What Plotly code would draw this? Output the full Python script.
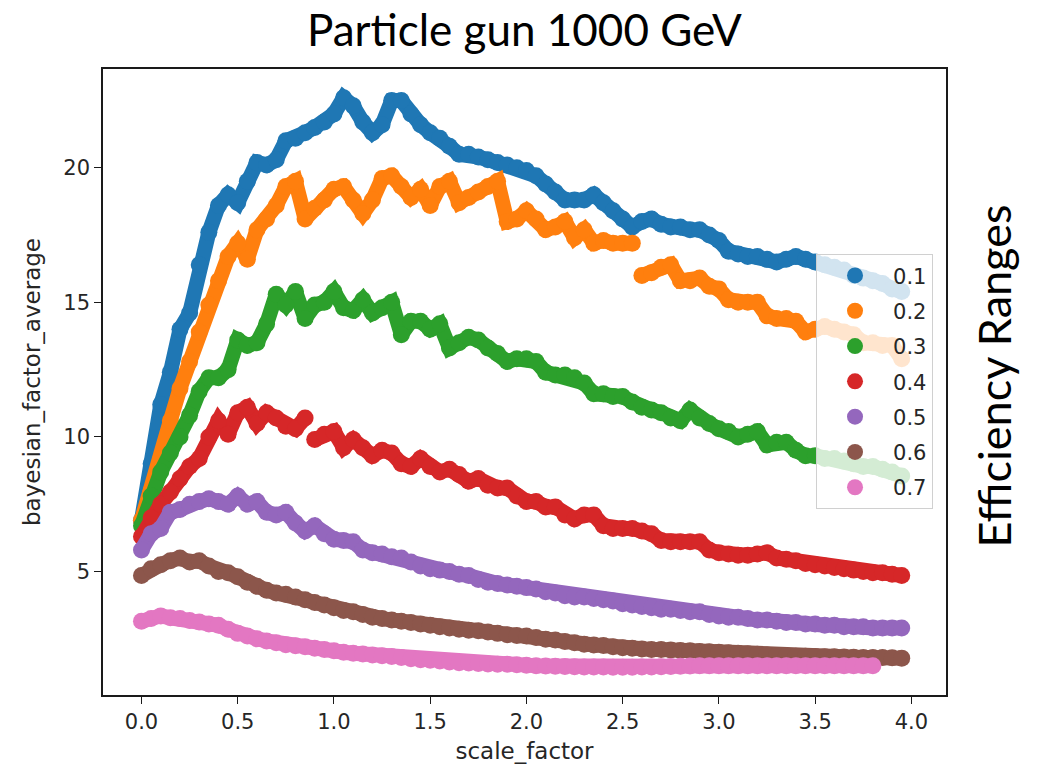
import plotly.graph_objects as go

SCALE_FACTOR = [0.00, 0.05, 0.10, 0.15, 0.20, 0.25, 0.30, 0.35, 0.40, 0.45,
                0.50, 0.55, 0.60, 0.65, 0.70, 0.75, 0.80, 0.85, 0.90, 0.95,
                1.00, 1.05, 1.10, 1.15, 1.20, 1.25, 1.30, 1.35, 1.40, 1.45,
                1.50, 1.55, 1.60, 1.65, 1.70, 1.75, 1.80, 1.85, 1.90, 1.95,
                2.00, 2.05, 2.10, 2.15, 2.20, 2.25, 2.30, 2.35, 2.40, 2.45,
                2.50, 2.55, 2.60, 2.65, 2.70, 2.75, 2.80, 2.85, 2.90, 2.95,
                3.00, 3.05, 3.10, 3.15, 3.20, 3.25, 3.30, 3.35, 3.40, 3.45,
                3.50, 3.55, 3.60, 3.65, 3.70, 3.75, 3.80, 3.85, 3.90, 3.95]

EFF_01 = [6.9, 9.0, 11.2, 12.4, 14.0, 14.6, 16.4, 17.6, 18.6, 19.0,
          18.7, 19.5, 20.2, 20.1, 20.3, 21.0, 21.1, 21.3, 21.5, 21.7,
          22.0, 22.6, 22.3, 21.7, 21.3, 21.6, 22.5, 22.5, 22.0, 21.6,
          21.3, 21.1, 20.8, 20.5, 20.5, 20.4, 20.3, 20.2, 20.1, 20.0,
          19.9, 19.7, 19.4, 19.1, 18.8, 18.8, 18.8, 19.0, 18.7, 18.4,
          18.1, 17.8, 18.0, 18.1, 17.9, 17.8, 17.8, 17.7, 17.7, 17.5,
          17.3, 16.9, 16.8, 16.7, 16.7, 16.6, 16.5, 16.6, 16.7, 16.6,
          16.5, 16.4, 16.3, 16.2, 16.0, 15.9, 15.8, 15.7, 15.5, 15.4]

EFF_02 = [6.9, 8.0, 9.2, 10.6, 11.8, 12.8, 13.9, 14.9, 15.8, 16.7,
          17.2, 16.6, 17.7, 18.1, 18.6, 19.3, 19.5, 18.1, 18.5, 18.8,
          19.2, 19.3, 18.8, 18.3, 18.8, 19.6, 19.7, 19.3, 18.9, 19.2,
          18.6, 19.3, 19.5, 18.7, 18.9, 19.1, 19.3, 19.5, 18.0, 18.1,
          18.4, 18.1, 17.7, 17.8, 18.0, 17.4, 17.7, 17.2, 17.3, 17.2,
          17.2, 17.2, 16.0, 16.1, 16.3, 16.4, 15.8, 15.8, 15.9, 15.6,
          15.5, 15.1, 15.0, 15.0, 15.0, 14.5, 14.4, 14.4, 14.3, 13.9,
          14.0, 14.1, 14.0, 13.9, 13.8, 13.5, 13.5, 13.4, 13.4, 12.9]

EFF_03 = [6.7, 7.8, 8.7, 9.4, 10.0, 10.8, 11.7, 12.2, 12.2, 12.5,
          13.6, 13.4, 13.5, 14.2, 15.3, 14.9, 15.4, 14.4, 14.9, 15.0,
          15.4, 14.8, 14.7, 15.1, 14.6, 14.8, 15.0, 13.8, 14.3, 14.3,
          14.0, 14.2, 13.3, 13.5, 13.7, 13.6, 13.3, 13.1, 12.8, 12.9,
          12.9, 12.8, 12.4, 12.3, 12.3, 12.2, 12.0, 11.6, 11.6, 11.5,
          11.5, 11.3, 11.1, 11.0, 10.9, 10.7, 10.6, 11.0, 10.7, 10.5,
          10.3, 10.2, 10.0, 10.1, 10.2, 9.7, 9.8, 9.8, 9.5, 9.3,
          9.3, 9.2, 9.2, 9.1, 9.0, 8.9, 8.9, 8.8, 8.7, 8.55]

EFF_04 = [6.3, 7.0, 7.5, 7.95, 8.45, 8.9, 9.2, 10.0, 10.6, 10.1,
          10.9, 11.1, 10.5, 10.9, 10.7, 10.4, 10.3, 10.7, 9.9, 10.1,
          10.2, 9.6, 9.9, 9.6, 9.3, 9.5, 9.4, 9.0, 8.9, 9.2,
          8.9, 8.7, 8.8, 8.6, 8.35, 8.45, 8.2, 8.1, 8.1, 7.8,
          7.6, 7.6, 7.4, 7.4, 7.1, 6.95, 7.1, 7.1, 6.7, 6.6,
          6.6, 6.6, 6.5, 6.4, 6.15, 6.1, 6.1, 6.1, 6.1, 5.8,
          5.7, 5.65, 5.6, 5.6, 5.65, 5.7, 5.5, 5.45, 5.4, 5.3,
          5.25, 5.2, 5.15, 5.1, 5.05, 5.0, 4.95, 4.95, 4.9, 4.85]

EFF_05 = [5.8, 6.4, 6.6, 7.2, 7.3, 7.5, 7.6, 7.7, 7.6, 7.5,
          7.8, 7.5, 7.6, 7.2, 7.1, 7.2, 6.8, 6.5, 6.7, 6.4,
          6.2, 6.15, 6.1, 5.8, 5.7, 5.65, 5.55, 5.5, 5.35, 5.2,
          5.1, 5.05, 5.0, 4.9, 4.85, 4.7, 4.6, 4.55, 4.5, 4.45,
          4.4, 4.35, 4.25, 4.2, 4.1, 4.05, 4.05, 4.0, 3.95, 3.9,
          3.8, 3.75, 3.7, 3.65, 3.6, 3.6, 3.55, 3.5, 3.5, 3.4,
          3.35, 3.3, 3.3, 3.25, 3.2, 3.2, 3.15, 3.1, 3.1, 3.05,
          3.05, 3.0, 3.0, 2.95, 2.95, 2.95, 2.9, 2.9, 2.9, 2.9]

EFF_06 = [4.85, 5.1, 5.25, 5.4, 5.5, 5.35, 5.4, 5.2, 5.0, 4.95,
          4.8, 4.6, 4.45, 4.3, 4.2, 4.15, 4.05, 3.95, 3.85, 3.75,
          3.65, 3.55, 3.5, 3.4, 3.3, 3.25, 3.2, 3.15, 3.1, 3.05,
          3.0, 2.95, 2.9, 2.85, 2.82, 2.8, 2.75, 2.7, 2.65, 2.62,
          2.6, 2.55, 2.48, 2.45, 2.4, 2.35, 2.3, 2.27, 2.25, 2.2,
          2.17, 2.15, 2.12, 2.1, 2.1, 2.08, 2.06, 2.05, 2.03, 2.02,
          2.0, 1.98, 1.96, 1.94, 1.92, 1.9, 1.88, 1.86, 1.85, 1.85,
          1.84, 1.83, 1.83, 1.82, 1.81, 1.8, 1.8, 1.8, 1.79, 1.78]

EFF_07 = [3.15, 3.25, 3.35, 3.28, 3.25, 3.18, 3.12, 3.05, 3.0, 2.85,
          2.7, 2.6, 2.5, 2.42, 2.35, 2.28, 2.24, 2.2, 2.15, 2.1,
          2.05, 2.0, 1.96, 1.93, 1.9, 1.87, 1.84, 1.8, 1.76, 1.72,
          1.7, 1.67, 1.64, 1.61, 1.6, 1.58, 1.56, 1.55, 1.55, 1.53,
          1.52, 1.5, 1.49, 1.48, 1.47, 1.46, 1.45, 1.45, 1.45, 1.44,
          1.44, 1.44, 1.45, 1.45, 1.46, 1.47, 1.48, 1.49, 1.5, 1.5,
          1.5, 1.5, 1.5, 1.5, 1.5, 1.5, 1.5, 1.5, 1.5, 1.5,
          1.5, 1.5, 1.5, 1.5, 1.5, 1.5, 1.5]

LABELS = ["0.1", "0.2", "0.3", "0.4", "0.5", "0.6", "0.7"]
SERIES = [EFF_01, EFF_02, EFF_03, EFF_04, EFF_05, EFF_06, EFF_07]
COLORS = ["#1f77b4", "#ff7f0e", "#2ca02c", "#d62728", "#9467bd", "#8c564b", "#e377c2"]
# scale_factor values where a series jumps (visible break in the point cloud)
JUMPS = {"0.2": [2.60], "0.4": [0.90]}
X_TICKS = [0.0, 0.5, 1.0, 1.5, 2.0, 2.5, 3.0, 3.5, 4.0]
Y_TICKS = [5, 10, 15, 20]

MARKER_SIZE = 17
BAND_WIDTH = 15

fig = go.Figure()
for lab, ys, col in zip(LABELS, SERIES, COLORS):
    xs = SCALE_FACTOR[:len(ys)]
    cuts = [0] + [xs.index(j) for j in JUMPS.get(lab, [])] + [len(xs)]
    for a, b in zip(cuts[:-1], cuts[1:]):
        fig.add_trace(go.Scatter(
            x=xs[a:b], y=ys[a:b], mode="lines+markers", name=lab,
            legendgroup=lab, showlegend=False, hoverinfo="x+y+name",
            line=dict(color=col, width=BAND_WIDTH),
            marker=dict(size=MARKER_SIZE, color=col, line=dict(width=0)),
        ))
    # legend entry (marker only, like matplotlib scatter)
    fig.add_trace(go.Scatter(
        x=[None], y=[None], mode="markers", name=lab, legendgroup=lab,
        showlegend=True, marker=dict(size=16, color=col, line=dict(width=0)),
    ))

tick_font = dict(family="DejaVu Sans", size=21, color="#262626")
title_font = dict(family="DejaVu Sans", size=23, color="#262626")
axis_common = dict(showline=True, linecolor="#1a1a1a", linewidth=1.5, mirror=True,
                   ticks="outside", ticklen=7, tickwidth=1.3, tickcolor="#1a1a1a",
                   showgrid=False, zeroline=False, tickfont=tick_font)

fig.update_layout(
    width=1038, height=772,
    margin=dict(l=103, r=92, t=69, b=75),
    paper_bgcolor="white", plot_bgcolor="white",
    showlegend=True,
    legend=dict(x=0.9846, xanchor="right", y=0.704, yanchor="top",
                bgcolor="rgba(255,255,255,0.8)", bordercolor="#d0d0d0", borderwidth=1,
                font=dict(family="DejaVu Sans", size=21, color="#262626"),
                tracegroupgap=5, itemwidth=66),
    xaxis=dict(range=[-0.2, 4.18], tickvals=X_TICKS, tickformat=".1f",
               title=dict(text="scale_factor", font=title_font, standoff=10),
               **axis_common),
    yaxis=dict(range=[0.41, 23.67], tickvals=Y_TICKS,
               title=dict(text="bayesian_factor_average", font=title_font, standoff=16),
               **axis_common),
    annotations=[
        dict(text="Particle gun 1000 GeV", xref="paper", yref="paper", x=0.5, y=1.064,
             xanchor="center", yanchor="middle", showarrow=False,
             font=dict(family="Lato", size=44, color="black")),
        dict(text="Efficiency Ranges", xref="paper", yref="paper", x=1.0575, y=0.5096,
             xanchor="center", yanchor="middle", textangle=-90, showarrow=False,
             font=dict(family="Lato", size=45, color="black")),
    ],
)

fig.write_html("out.html")
